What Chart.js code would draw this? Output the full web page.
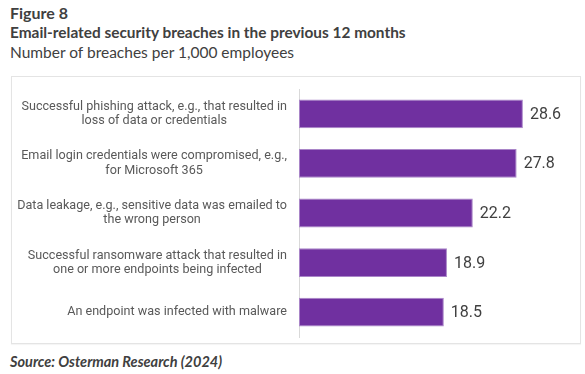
<!DOCTYPE html>
<html>
<head>
<meta charset="utf-8">
<script src="https://cdn.jsdelivr.net/npm/chart.js@4"></script>
<style>
  html, body { margin: 0; padding: 0; background: #fff; }
  body { width: 585px; height: 374px; position: relative; overflow: hidden; }
  .hd { position: absolute; left: 10px; color: #404040; font-family: Lato, sans-serif; white-space: nowrap; }
  #fig { top: 3px; font-size: 16px; font-weight: bold; }
  #ttl { top: 23px; font-size: 15.4px; font-weight: bold; }
  #sub { top: 43px; font-size: 15.5px; }
  #src { top: 353px; font-size: 14.5px; font-weight: bold; font-style: italic; }
  #box { position: absolute; left: 11px; top: 76px; width: 568px; height: 266px;
         border: 1px solid #e4e4e4; box-shadow: 0 1px 1px rgba(0,0,0,0.04); }
  #chart { position: absolute; left: 0; top: 0; }
</style>
</head>
<body>
<div class="hd" id="fig">Figure 8</div>
<div class="hd" id="ttl">Email-related security breaches in the previous 12 months</div>
<div class="hd" id="sub">Number of breaches per 1,000 employees</div>
<div id="box"></div>
<div class="hd" id="src">Source: Osterman Research (2024)</div>
<canvas id="chart" width="585" height="374"></canvas>
<script>
// category labels, one array of lines per bar
const categories = [
    ["Successful phishing attack, e.g., that resulted in", "loss of data or credentials"],
    ["Email login credentials were compromised, e.g.,", "for Microsoft 365"],
    ["Data leakage, e.g., sensitive data was emailed to", "the wrong person"],
    ["Successful ransomware attack that resulted in", "one or more endpoints being infected"],
    ["An endpoint was infected with malware"]
];
const breaches = [28.6, 27.8, 22.2, 18.9, 18.5];
const xMax = 35;

const purple = "#7030a0";

// draws the category labels, each block centred on its own widest line
const catLabels = {
    id: "catLabels",
    afterDraw(chart) {
        const ctx = chart.ctx;
        const scale = chart.scales.y;
        const right = scale.right - 12;
        const lh = 14.3;
        ctx.save();
        ctx.font = "12.6px Roboto";
        ctx.fillStyle = "#595959";
        ctx.textAlign = "left";
        ctx.textBaseline = "middle";
        categories.forEach((lines, i) => {
            const y = scale.getPixelForTick(i);
            const widths = lines.map((l) => ctx.measureText(l).width);
            const widest = Math.max(...widths);
            const cx = right - widest / 2;
            const y0 = y - (lines.length - 1) * lh / 2;
            lines.forEach((l, j) => ctx.fillText(l, cx - widths[j] / 2, y0 + j * lh));
        });
        ctx.restore();
    }
};

// value at the end of each bar
const valueLabels = {
    id: "valueLabels",
    afterDatasetsDraw(chart) {
        const ctx = chart.ctx;
        const meta = chart.getDatasetMeta(0);
        ctx.save();
        ctx.font = "16px Roboto";
        ctx.fillStyle = "#404040";
        ctx.textAlign = "left";
        ctx.textBaseline = "middle";
        meta.data.forEach((bar, i) => {
            ctx.fillText(breaches[i].toFixed(1), bar.x + 7, bar.y + 1);
        });
        ctx.restore();
    }
};

new Chart(document.getElementById("chart").getContext("2d"), {
    type: "bar",
    data: {
        labels: categories,
        datasets: [{
            data: breaches,
            backgroundColor: purple,
            borderColor: "#a985c8",
            borderWidth: 1,
            borderSkipped: false,
            barPercentage: 0.58,
            categoryPercentage: 1
        }]
    },
    options: {
        indexAxis: "y",
        responsive: false,
        animation: false,
        layout: { padding: { top: 89, bottom: 37, left: 0, right: 12 } },
        plugins: { legend: { display: false }, tooltip: { enabled: false } },
        scales: {
            x: { min: 0, max: xMax, display: false },
            y: {
                grid: { display: false },
                border: { display: true, color: "#d9d9d9", width: 1 },
                ticks: { display: false },
                afterFit(scale) { scale.width = 299; }
            }
        }
    },
    plugins: [catLabels, valueLabels]
});
</script>
</body>
</html>
